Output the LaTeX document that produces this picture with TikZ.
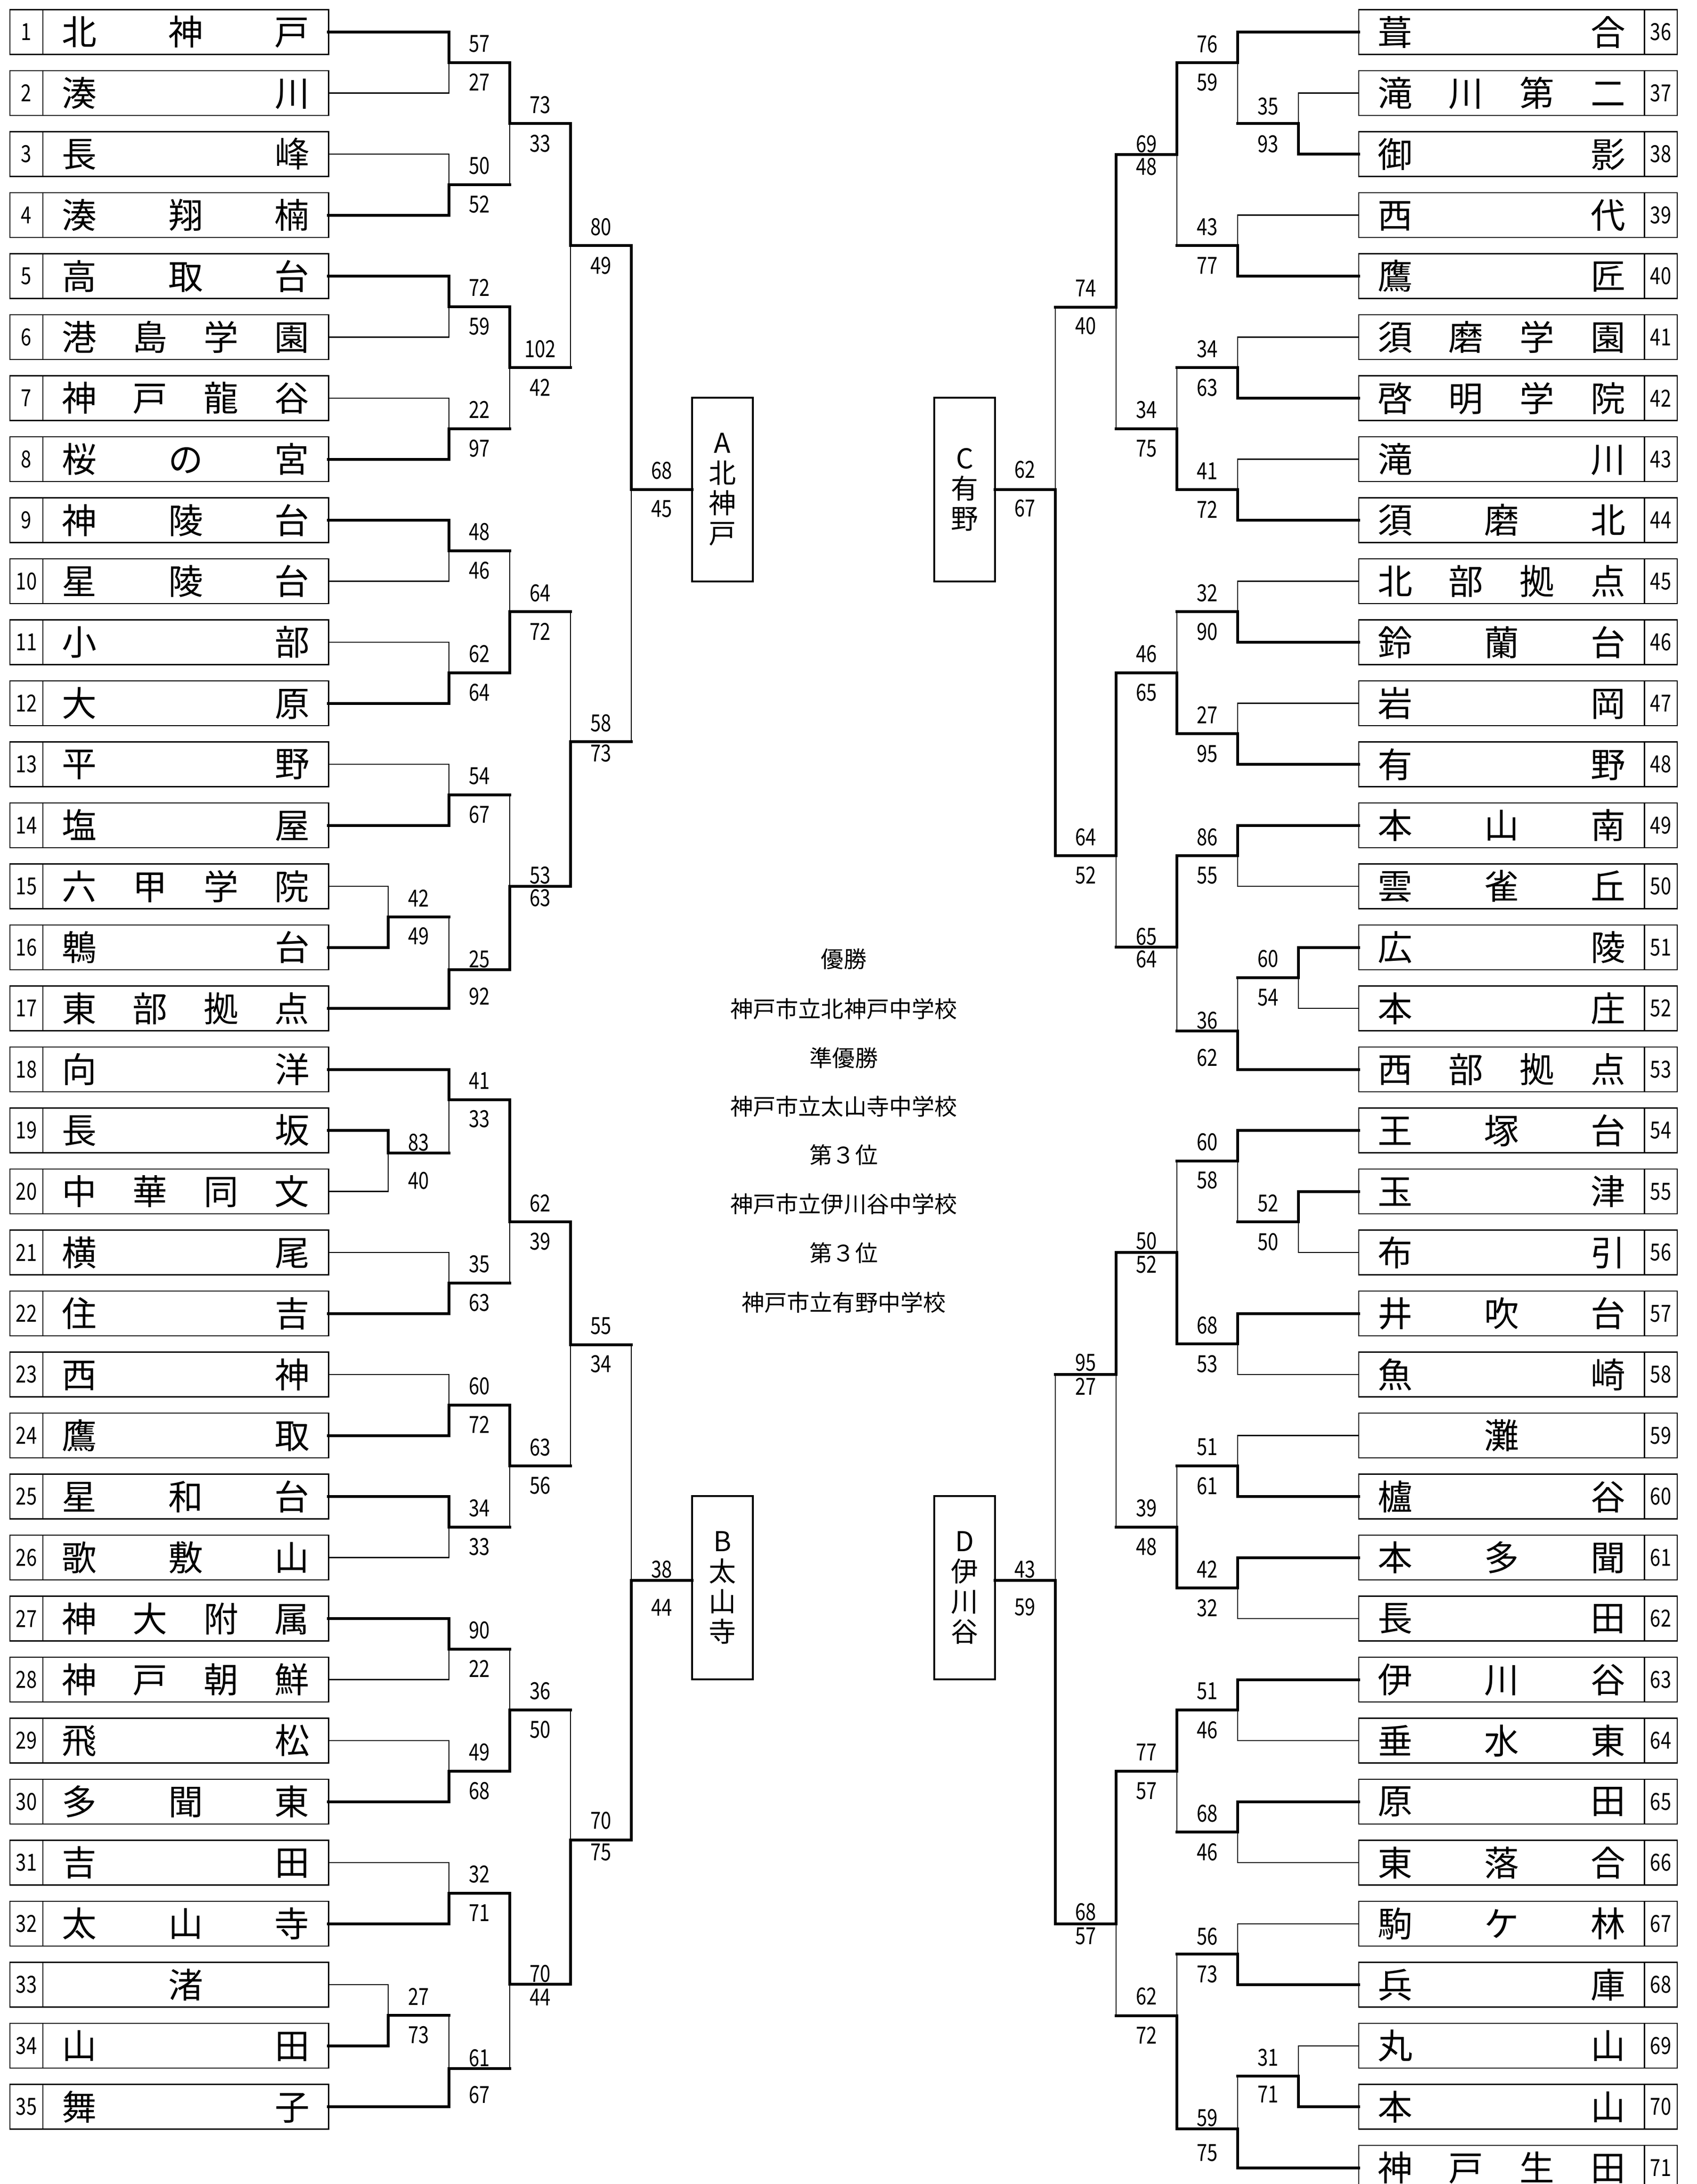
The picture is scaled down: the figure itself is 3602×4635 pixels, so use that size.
\documentclass[tikz,border=0pt]{standalone}
\usepackage{fontspec}
\setmainfont{Noto Sans CJK JP}
\newfontfamily\numfont[FakeStretch=0.8]{Noto Sans CJK JP}
\newcommand{\teamfont}{\fontsize{21}{24}\selectfont}
\newcommand{\scorefont}{\numfont\fontsize{14.2}{16}\selectfont}
\newcommand{\titlefont}{\fontsize{13.7}{16}\selectfont}
\newcommand{\groupfont}{\fontsize{16.5}{18.2}\selectfont}

\begin{document}
\begin{tikzpicture}[x=0.01cm, y=-0.01cm,
  teamno/.style={draw, line width=0.75pt, minimum width=0.7cm, minimum height=0.95cm, inner sep=0pt, font=\scorefont},
  teamname/.style={draw, line width=0.75pt, minimum width=6.06cm, minimum height=0.95cm, inner sep=0pt, font=\teamfont},
  win/.style={line width=1.7pt, line cap=rect},
  lose/.style={line width=0.6pt, line cap=rect},
  score/.style={inner sep=0pt, font=\scorefont},
  group/.style={draw, line width=1.15pt, minimum width=1.29cm, minimum height=3.89cm, inner sep=0pt, align=center, font=\groupfont},
  title/.style={inner sep=0pt, font=\titlefont}]
  \fill[white] (0,0) rectangle (3602,4635);
  \useasboundingbox (0,0) rectangle (3602,4635);

  % nodes
  \foreach \tn/\tname/\tx/\tls [count=\row] in {
    1/{北 神 戸}/953/win, 2/{湊 川}/953/lose, 3/{長 峰}/953/lose, 4/{湊 翔 楠}/953/win,
    5/{高 取 台}/953/win, 6/{港 島 学 園}/953/lose, 7/{神 戸 龍 谷}/953/lose, 8/{桜 の 宮}/953/win,
    9/{神 陵 台}/953/win, 10/{星 陵 台}/953/lose, 11/{小 部}/953/lose, 12/{大 原}/953/win,
    13/{平 野}/953/lose, 14/{塩 屋}/953/win, 15/{六 甲 学 院}/824/lose, 16/{鵯 台}/824/win,
    17/{東 部 拠 点}/953/win, 18/{向 洋}/953/win, 19/{長 坂}/824/win, 20/{中 華 同 文}/824/lose,
    21/{横 尾}/953/lose, 22/{住 吉}/953/win, 23/{西 神}/953/lose, 24/{鷹 取}/953/win,
    25/{星 和 台}/953/win, 26/{歌 敷 山}/953/lose, 27/{神 大 附 属}/953/win, 28/{神 戸 朝 鮮}/953/lose,
    29/{飛 松}/953/lose, 30/{多 聞 東}/953/win, 31/{吉 田}/953/lose, 32/{太 山 寺}/953/win,
    33/{\hfill 渚\hfill}/824/lose, 34/{山 田}/824/win, 35/{舞 子}/953/win}{
    \pgfmathsetmacro{\yy}{68+(\row-1)*129.5}
    \node[teamno] (no\tn) at (56,\yy) {\tn};
    \node[teamname] (nm\tn) at (394,\yy) {\makebox[5.255cm][s]{\tname}};
    \coordinate (t\tn) at (697,\yy);
    \draw[\tls] (t\tn) -- (\tx,\yy);
  }
  \foreach \tn/\tname/\tx/\tls [count=\row] in {
    36/{葺 合}/2627/win, 37/{滝 川 第 二}/2756/lose, 38/{御 影}/2756/win, 39/{西 代}/2627/lose,
    40/{鷹 匠}/2627/win, 41/{須 磨 学 園}/2627/lose, 42/{啓 明 学 院}/2627/win, 43/{滝 川}/2627/lose,
    44/{須 磨 北}/2627/win, 45/{北 部 拠 点}/2627/lose, 46/{鈴 蘭 台}/2627/win, 47/{岩 岡}/2627/lose,
    48/{有 野}/2627/win, 49/{本 山 南}/2627/win, 50/{雲 雀 丘}/2627/lose, 51/{広 陵}/2756/win,
    52/{本 庄}/2756/lose, 53/{西 部 拠 点}/2627/win, 54/{王 塚 台}/2627/win, 55/{玉 津}/2756/win,
    56/{布 引}/2756/lose, 57/{井 吹 台}/2627/win, 58/{魚 崎}/2627/lose, 59/{\hfill 灘\hfill}/2627/lose,
    60/{櫨 谷}/2627/win, 61/{本 多 聞}/2627/win, 62/{長 田}/2627/lose, 63/{伊 川 谷}/2627/win,
    64/{垂 水 東}/2627/lose, 65/{原 田}/2627/win, 66/{東 落 合}/2627/lose, 67/{駒 ケ 林}/2627/lose,
    68/{兵 庫}/2627/win, 69/{丸 山}/2756/lose, 70/{本 山}/2756/win, 71/{神 戸 生 田}/2627/win}{
    \pgfmathsetmacro{\yy}{68+(\row-1)*129.5}
    \node[teamno] (no\tn) at (3525,\yy) {\tn};
    \node[teamname] (nm\tn) at (3187,\yy) {\makebox[5.255cm][s]{\tname}};
    \coordinate (t\tn) at (2884,\yy);
    \draw[\tls] (t\tn) -- (\tx,\yy);
  }

  \node[group] (A) at (1533.5,1039) {A\\北\\神\\戸};
  \node[group] (B) at (1533.5,3369.5) {B\\太\\山\\寺};
  \node[group] (C) at (2047.5,1039) {C\\有\\野};
  \node[group] (D) at (2047.5,3369.5) {D\\伊\\川\\谷};

  \node[title] (win1) at (1791,2035) {優勝};
  \node[title] (win1s) at (1791,2141) {神戸市立北神戸中学校};
  \node[title] (win2) at (1791,2245) {準優勝};
  \node[title] (win2s) at (1791,2348) {神戸市立太山寺中学校};
  \node[title] (third1) at (1791,2451.5) {第３位};
  \node[title] (third1s) at (1791,2555) {神戸市立伊川谷中学校};
  \node[title] (third2) at (1791,2659.5) {第３位};
  \node[title] (third2s) at (1791,2764.6) {神戸市立有野中学校};

  % edges
  \foreach \mt/\mx/\my/\eu/\el/\stu/\stl/\sca/\scb/\dya/\dyb/\nxt in {
    m15/824/1946/t15/t16/lose/win/42/49/-40/41/953,
    m19/824/2447/t19/t20/win/lose/83/40/-22/59/953,
    m33/824/4276.75/t33/t34/lose/win/27/73/-39/42/953,
    m1/953/132.75/t1/t2/win/lose/57/27/-40/42/1082,
    m3/953/391.75/t3/t4/lose/win/50/52/-40/42/1082,
    m5/953/650.75/t5/t6/win/lose/72/59/-40/42/1082,
    m7/953/909.75/t7/t8/lose/win/22/97/-40/42/1082,
    m9/953/1168.75/t9/t10/win/lose/48/46/-40/42/1082,
    m11/953/1427.75/t11/t12/lose/win/62/64/-40/42/1082,
    m13/953/1686.75/t13/t14/lose/win/54/67/-40/42/1082,
    m16/953/2058/m15/t17/lose/win/25/92/-22/57/1082,
    m18/953/2334/t18/m19/win/lose/41/33/-40/41/1082,
    m21/953/2722.75/t21/t22/lose/win/35/63/-40/42/1082,
    m23/953/2981.75/t23/t24/lose/win/60/72/-40/42/1082,
    m25/953/3240.75/t25/t26/win/lose/34/33/-40/42/1082,
    m27/953/3499.75/t27/t28/win/lose/90/22/-40/42/1082,
    m29/953/3758.75/t29/t30/lose/win/49/68/-40/42/1082,
    m31/953/4017.75/t31/t32/lose/win/32/71/-40/42/1082,
    m34/953/4390/m33/t35/lose/win/61/67/-22/56/1082,
    n1/1082/262.25/m1/m3/win/lose/73/33/-40/42/1211,
    n5/1082/780.25/m5/m7/win/lose/102/42/-40/42/1211,
    n9/1082/1298.25/m9/m11/lose/win/64/72/-40/42/1211,
    n13/1082/1881/m13/m16/lose/win/53/63/-23/25/1211,
    n18/1082/2593/m18/m21/win/lose/62/39/-39/42/1211,
    n23/1082/3111/m23/m25/win/lose/63/56/-39/42/1211,
    n27/1082/3629/m27/m29/lose/win/36/50/-40/42/1211,
    n31/1082/4211/m31/m34/win/lose/70/44/-22/28/1211,
    p1/1211/521.25/n1/n5/win/lose/80/49/-40/42/1340,
    p9/1211/1574/n9/n13/lose/win/58/73/-39/25/1340,
    p18/1211/2853.5/n18/n23/win/lose/55/34/-40/41/1340,
    p27/1211/3905/n27/n31/lose/win/70/75/-41/26/1340,
    qA/1340/1039/p1/p9/win/lose/68/45/-40/41/1469,
    qB/1340/3354/p18/p27/lose/win/38/44/-23/58/1469}{
    \coordinate (\mt) at (\mx,\my);
    \draw[\stu] (\eu -| \mt) -- (\mt);
    \draw[\stl] (\el -| \mt) -- (\mt);
    \draw[win] (\mt) -- (\nxt,\my);
    \node[score] (\mt-a) at (\mx+64.5,\my+\dya) {\sca};
    \node[score] (\mt-b) at (\mx+64.5,\my+\dyb) {\scb};
  }
  \foreach \mt/\mx/\my/\eu/\el/\stu/\stl/\sca/\scb/\dya/\dyb/\nxt in {
    r37/2756/262.25/t37/t38/lose/win/35/93/-37/43/2627,
    r51/2756/2074.75/t51/t52/win/lose/60/54/-40/42/2627,
    r55/2756/2593.25/t55/t56/win/lose/52/50/-40/42/2627,
    r69/2756/4406.25/t69/t70/lose/win/31/71/-40/38/2627,
    r36/2627/132.75/t36/r37/win/lose/76/59/-39/42/2498,
    r39/2627/521.25/t39/t40/lose/win/43/77/-40/42/2498,
    r41/2627/780.25/t41/t42/lose/win/34/63/-40/42/2498,
    r43/2627/1039.25/t43/t44/lose/win/41/72/-40/42/2498,
    r45/2627/1298.25/t45/t46/lose/win/32/90/-40/42/2498,
    r47/2627/1557.25/t47/t48/lose/win/27/95/-40/42/2498,
    r49/2627/1816.25/t49/t50/win/lose/86/55/-40/42/2498,
    r52/2627/2188/r51/t53/lose/win/36/62/-22/57/2498,
    r54/2627/2463.75/t54/r55/win/lose/60/58/-40/41/2498,
    r57/2627/2852.25/t57/t58/win/lose/68/53/-40/42/2498,
    r59/2627/3111.25/t59/t60/lose/win/51/61/-40/42/2498,
    r61/2627/3370.25/t61/t62/win/lose/42/32/-40/42/2498,
    r63/2627/3629.25/t63/t64/win/lose/51/46/-40/42/2498,
    r65/2627/3888.25/t65/t66/win/lose/68/46/-40/42/2498,
    r67/2627/4147.25/t67/t68/lose/win/56/73/-38/42/2498,
    r70/2627/4518/r69/t71/lose/win/59/75/-23/51/2498,
    s36/2498/327.5/r36/r39/win/lose/69/48/-22/26/2369,
    s41/2498/909.75/r41/r43/lose/win/34/75/-40/42/2369,
    s45/2498/1427.75/r45/r47/lose/win/46/65/-40/42/2369,
    s49/2498/2009.5/r49/r52/win/lose/65/64/-22/26/2369,
    s54/2498/2658/r54/r57/lose/win/50/52/-24/26/2369,
    s59/2498/3240.75/r59/r61/lose/win/39/48/-40/42/2369,
    s63/2498/3758.75/r63/r65/win/lose/77/57/-40/42/2369,
    s67/2498/4278/r67/r70/lose/win/62/72/-41/41/2369,
    u36/2369/652/s36/s41/win/lose/74/40/-40/40/2240,
    u45/2369/1816/s45/s49/win/lose/64/52/-39/42/2240,
    u54/2369/2917/s54/s59/win/lose/95/27/-25/25/2240,
    u63/2369/4082.5/s63/s67/win/lose/68/57/-25/26/2240,
    vC/2240/1039/u36/u45/lose/win/62/67/-42/40/2112,
    vD/2240/3354/u54/u63/lose/win/43/59/-23/57/2112}{
    \coordinate (\mt) at (\mx,\my);
    \draw[\stu] (\eu -| \mt) -- (\mt);
    \draw[\stl] (\el -| \mt) -- (\mt);
    \draw[win] (\mt) -- (\nxt,\my);
    \node[score] (\mt-a) at (\mx-64.5,\my+\dya) {\sca};
    \node[score] (\mt-b) at (\mx-64.5,\my+\dyb) {\scb};
  }
\end{tikzpicture}
\end{document}
